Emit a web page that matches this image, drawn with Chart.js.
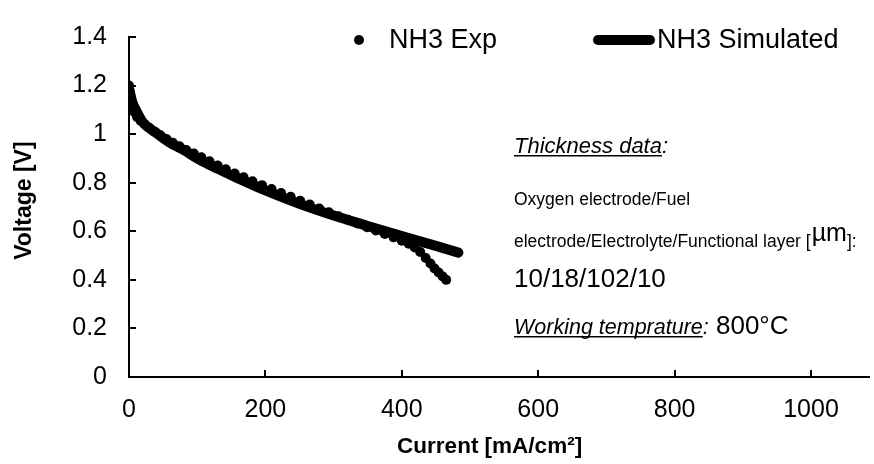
<!DOCTYPE html>
<html>
<head>
<meta charset="utf-8">
<script src="https://cdn.jsdelivr.net/npm/chart.js@4.4.1/dist/chart.umd.min.js"></script>
<style>
  html, body { margin: 0; padding: 0; background: #fff; }
</style>
</head>
<body>
<canvas id="myChart" width="874" height="464"></canvas>
<script>
// Experimental points (current mA/cm2, voltage V)
const expCurrent = [0, 1, 2, 3, 5, 8, 12, 17, 23, 30, 38, 46, 55, 64, 74, 84, 95, 106, 118, 130,
  142, 155, 168, 181, 195, 209, 223, 237, 251, 265, 279, 293, 307, 321, 335, 349, 362, 375, 388,
  400, 410, 419, 427, 435, 442, 448, 454, 460, 465];
const expVoltage = [1.20, 1.17, 1.15, 1.13, 1.11, 1.09, 1.07, 1.055, 1.04, 1.025, 1.01, 0.995, 0.98,
  0.965, 0.95, 0.935, 0.92, 0.905, 0.888, 0.871, 0.855, 0.838, 0.822, 0.806, 0.79, 0.774, 0.758,
  0.742, 0.726, 0.71, 0.694, 0.678, 0.662, 0.647, 0.632, 0.617, 0.603, 0.589, 0.575, 0.561, 0.549,
  0.533, 0.515, 0.49, 0.467, 0.447, 0.43, 0.414, 0.40];

// Simulated curve
const simCurrent = [0, 5, 10, 20, 40, 60, 80, 100, 130, 160, 200, 250, 300, 350, 400, 450, 483];
const simVoltage = [1.19, 1.13, 1.10, 1.05, 1.005, 0.965, 0.935, 0.90, 0.857, 0.818, 0.768, 0.713,
  0.665, 0.622, 0.58, 0.54, 0.512];

const seriesLabels = ['NH3 Exp', 'NH3 Simulated'];
const xTicks = [0, 200, 400, 600, 800, 1000];
const yTicks = [0, 0.2, 0.4, 0.6, 0.8, 1, 1.2, 1.4];

const FONT = '"Liberation Sans", Arial, sans-serif';

// tick marks drawn on the inside of the axes, like the original
const insideTicks = {
  id: 'insideTicks',
  afterDraw(chart) {
    const ctx = chart.ctx;
    const xs = chart.scales.x, ys = chart.scales.y;
    ctx.save();
    ctx.strokeStyle = '#000';
    ctx.lineWidth = 2;
    ctx.beginPath();
    xs.ticks.forEach(t => {
      if (t.value === 0) return;
      const px = Math.round(xs.getPixelForValue(t.value));
      ctx.moveTo(px, xs.top);
      ctx.lineTo(px, xs.top - 7);
    });
    ys.ticks.forEach(t => {
      if (t.value === 0) return;
      const py = Math.round(ys.getPixelForValue(t.value));
      ctx.moveTo(ys.right, py);
      ctx.lineTo(ys.right + 7, py);
    });
    ctx.stroke();
    ctx.restore();
  }
};

// legend drawn over the plot area
const topLegend = {
  id: 'topLegend',
  afterDraw(chart) {
    const ctx = chart.ctx;
    const ds = chart.data.datasets;
    ctx.save();
    ctx.fillStyle = '#000';
    ctx.strokeStyle = '#000';
    ctx.font = '27px ' + FONT;
    ctx.textBaseline = 'middle';
    ctx.beginPath();
    ctx.arc(359, 40, 5, 0, Math.PI * 2);
    ctx.fill();
    ctx.fillText(ds[0].label, 389, 41);
    ctx.lineWidth = 10;
    ctx.lineCap = 'round';
    ctx.beginPath();
    ctx.moveTo(598, 40);
    ctx.lineTo(650, 40);
    ctx.stroke();
    ctx.fillText(ds[1].label, 657, 41);
    ctx.restore();
  }
};

function underlined(ctx, text, x, y) {
  ctx.fillText(text, x, y);
  const w = ctx.measureText(text).width;
  ctx.fillRect(x, y + 2, w, 1.5);
  return w;
}

// text notes inside the plot
const notes = {
  id: 'notes',
  afterDraw(chart) {
    const ctx = chart.ctx;
    ctx.save();
    ctx.fillStyle = '#000';
    ctx.textBaseline = 'alphabetic';
    const x = 514;
    ctx.font = 'italic 22px ' + FONT;
    let w = underlined(ctx, 'Thickness data', x, 153);
    ctx.fillText(':', x + w, 153);

    ctx.font = '17.5px ' + FONT;
    ctx.fillText('Oxygen electrode/Fuel', x, 205);
    const line = 'electrode/Electrolyte/Functional layer [';
    ctx.fillText(line, x, 247);
    w = ctx.measureText(line).width;
    ctx.font = '25px ' + FONT;
    ctx.fillText('\u00b5m', x + w + 1, 241);
    const w2 = ctx.measureText('\u00b5m').width;
    ctx.font = '17.5px ' + FONT;
    ctx.fillText(']:', x + w + w2 + 1, 247);

    ctx.font = '26px ' + FONT;
    ctx.fillText('10/18/102/10', x, 287);

    ctx.font = 'italic 21.5px ' + FONT;
    w = underlined(ctx, 'Working temprature', x, 334);
    ctx.fillText(':', x + w, 334);
    const w3 = ctx.measureText(':').width;
    ctx.font = '26px ' + FONT;
    ctx.fillText(' 800\u00b0C', x + w + w3, 334);
    ctx.restore();
  }
};

const ctx = document.getElementById('myChart');
const myChart = new Chart(ctx, {
  type: 'scatter',
  data: {
    datasets: [{
      label: seriesLabels[0],
      data: expCurrent.map((c, i) => ({ x: c, y: expVoltage[i] })),
      showLine: false,
      pointRadius: 5,
      pointBackgroundColor: '#000',
      pointBorderWidth: 0,
      order: 2
    }, {
      label: seriesLabels[1],
      data: simCurrent.map((c, i) => ({ x: c, y: simVoltage[i] })),
      showLine: true,
      borderColor: '#000',
      borderWidth: 10,
      borderCapStyle: 'round',
      borderJoinStyle: 'round',
      cubicInterpolationMode: 'monotone',
      pointRadius: 0,
      order: 1
    }]
  },
  options: {
    responsive: false,
    animation: false,
    devicePixelRatio: 1,
    layout: { padding: { top: 20, right: 3, left: 0, bottom: 0 } },
    plugins: {
      legend: { display: false },
      tooltip: { enabled: false }
    },
    scales: {
      x: {
        type: 'linear',
        min: 0,
        max: 1085,
        afterFit(s) { s.height = 87; },
        afterBuildTicks(s) { s.ticks = xTicks.map(v => ({ value: v })); },
        grid: { display: false, drawTicks: false },
        border: { display: true, color: '#000', width: 2 },
        ticks: {
          color: '#000',
          padding: 18,
          maxRotation: 0,
          font: { family: FONT, size: 25 },
          callback: v => String(v)
        },
        title: {
          display: true,
          // trailing spaces nudge the centred title a little left, as in the original
          text: 'Current [mA/cm\u00b2]\u00a0\u00a0\u00a0',
          color: '#000',
          font: { family: FONT, size: 22.5, weight: 'bold' },
          padding: { top: 0, bottom: 4 }
        }
      },
      y: {
        min: 0,
        max: 1.4,
        afterFit(s) { s.width = 129; },
        afterBuildTicks(s) { s.ticks = yTicks.map(v => ({ value: v })); },
        grid: { display: false, drawTicks: false },
        border: { display: true, color: '#000', width: 2 },
        ticks: {
          color: '#000',
          padding: 22,
          font: { family: FONT, size: 25 },
          callback: v => String(+v.toFixed(1))
        },
        title: {
          display: true,
          text: '\u00a0\u00a0Voltage [V]',
          color: '#000',
          font: { family: FONT, size: 23, weight: 'bold' },
          padding: { top: 11, bottom: 0 }
        }
      }
    }
  },
  plugins: [insideTicks, topLegend, notes]
});
</script>
</body>
</html>
